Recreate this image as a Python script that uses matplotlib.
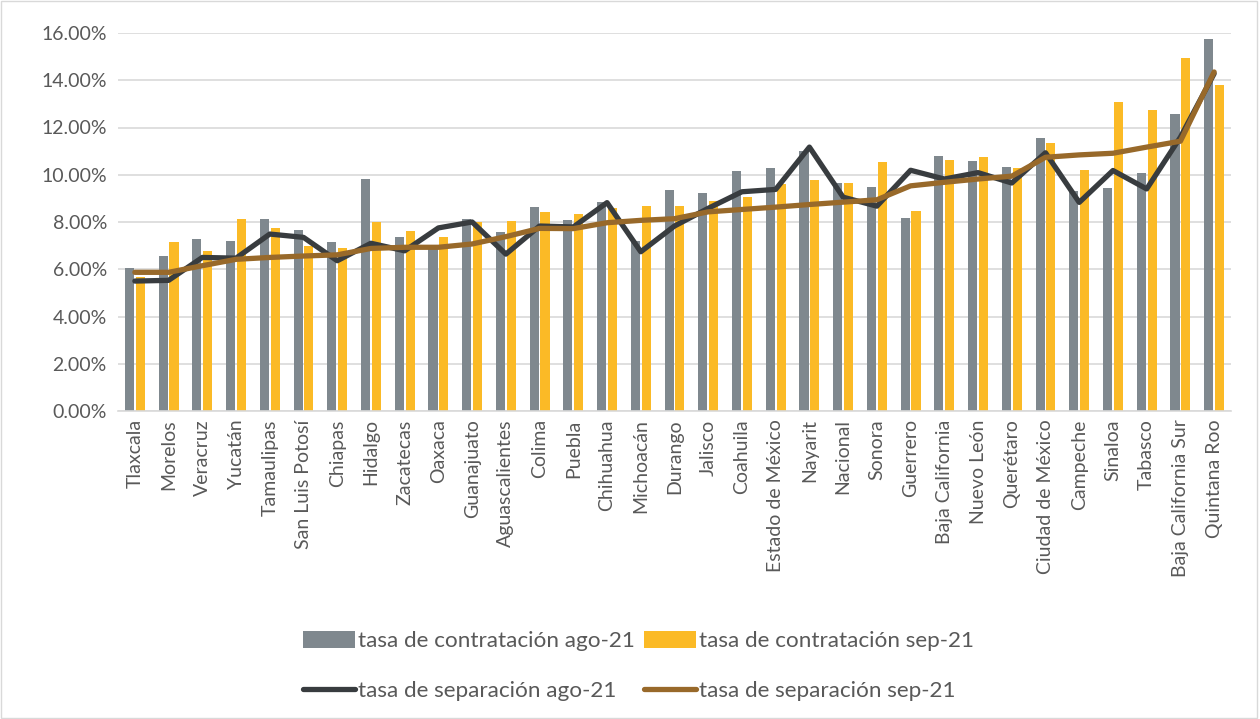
import matplotlib.pyplot as plt
import numpy as np
from matplotlib.ticker import FuncFormatter

plt.rcParams['font.family'] = ['Lato', 'DejaVu Sans']

estados = ["Tlaxcala", "Morelos", "Veracruz", "Yucatán", "Tamaulipas", "San Luis Potosí",
           "Chiapas", "Hidalgo", "Zacatecas", "Oaxaca", "Guanajuato", "Aguascalientes",
           "Colima", "Puebla", "Chihuahua", "Michoacán", "Durango", "Jalisco", "Coahuila",
           "Estado de México", "Nayarit", "Nacional", "Sonora", "Guerrero", "Baja California",
           "Nuevo León", "Querétaro", "Ciudad de México", "Campeche", "Sinaloa", "Tabasco",
           "Baja California Sur", "Quintana Roo"]

# tasa de contratación (%)
contr_ago = [6.05, 6.57, 7.28, 7.21, 8.14, 7.66, 7.15, 9.82, 7.35, 6.85, 8.14, 7.59,
             8.65, 8.07, 8.86, 7.20, 9.35, 9.21, 10.14, 10.28, 11.00, 9.66, 9.48, 8.16,
             10.81, 10.60, 10.32, 11.56, 9.33, 9.44, 10.09, 12.57, 15.73]
contr_sep = [5.68, 7.14, 6.78, 8.11, 7.76, 6.98, 6.91, 8.00, 7.62, 7.38, 8.00, 8.04,
             8.43, 8.32, 8.58, 8.66, 8.69, 8.91, 9.05, 9.59, 9.77, 9.65, 10.56, 8.47,
             10.64, 10.77, 10.30, 11.35, 10.18, 13.06, 12.72, 14.95, 13.82]
# tasa de separación (%)
sep_ago = [5.50, 5.53, 6.50, 6.47, 7.49, 7.35, 6.36, 7.10, 6.78, 7.75, 8.00, 6.64,
           7.83, 7.79, 8.82, 6.74, 7.83, 8.58, 9.28, 9.38, 11.17, 9.05, 8.67, 10.19,
           9.82, 10.09, 9.65, 10.93, 8.83, 10.18, 9.40, 11.59, 14.28]
sep_sep = [5.87, 5.87, 6.15, 6.42, 6.50, 6.56, 6.61, 6.88, 6.93, 6.93, 7.07, 7.38,
           7.73, 7.72, 7.97, 8.07, 8.14, 8.43, 8.53, 8.63, 8.74, 8.84, 8.94, 9.53,
           9.68, 9.82, 9.94, 10.74, 10.84, 10.91, 11.17, 11.42, 14.35]

gris = '#7F888E'
amarillo = '#FBBA26'
oscuro = '#383C3F'
cafe = '#98692A'

fig = plt.figure(figsize=(12.6, 7.19), dpi=100)
ax = fig.add_axes([118/1260, 1 - 411/719, (1231-118)/1260, (411-33)/719])

x = np.arange(len(estados))
w = 0.27
b1 = ax.bar(x - 0.16, contr_ago, w, color=gris, label='tasa de contratación ago-21', zorder=2)
b2 = ax.bar(x + 0.16, contr_sep, w, color=amarillo, label='tasa de contratación sep-21', zorder=2)
l1, = ax.plot(x, sep_ago, color=oscuro, lw=3.8, label='tasa de separación ago-21', zorder=3,
              solid_capstyle='round')
l2, = ax.plot(x, sep_sep, color=cafe, lw=3.8, label='tasa de separación sep-21', zorder=4,
              solid_capstyle='round')

ax.set_xlim(-0.5, len(estados) - 0.5)
ax.set_ylim(0, 16)
ax.set_yticks(np.arange(0, 16.01, 2))
ax.yaxis.set_major_formatter(FuncFormatter(lambda v, p: f"{v:.2f}%"))
ax.grid(axis='y', color='#D9D9D9', lw=1.2, zorder=0)
ax.set_axisbelow(True)
for s in ['top', 'right', 'left']:
    ax.spines[s].set_visible(False)
ax.spines['bottom'].set_color('#D9D9D9')
ax.spines['bottom'].set_linewidth(1.2)
ax.tick_params(axis='both', length=0, labelsize=14, colors='#595959', pad=8)
ax.set_xticks(x)
ax.set_xticklabels(estados, rotation=90)
ax.tick_params(axis='x', pad=6)

handles = [b1, l1, b2, l2]
labels = [h.get_label() for h in handles]
fig.legend(handles, labels, ncol=2, loc='center', bbox_to_anchor=(0.507, 1 - 666/719),
           frameon=False, fontsize=16.2, labelcolor='#595959', handlelength=2.3,
           handleheight=0.8, handletextpad=0.15, columnspacing=0.4, labelspacing=1.3)

fig.patches.append(plt.Rectangle((0.001, 0.001), 0.997, 0.997, transform=fig.transFigure,
                                 fill=False, edgecolor='#D9D9D9', lw=1))

fig.savefig('out.png', dpi=100, facecolor='white')
